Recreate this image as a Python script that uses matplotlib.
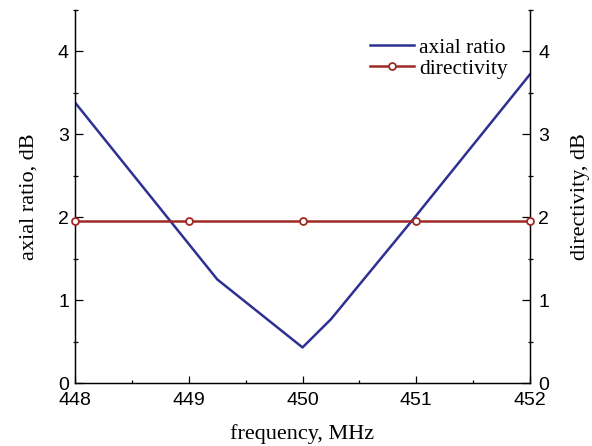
import matplotlib.pyplot as plt
from matplotlib.ticker import MultipleLocator

freq_ar = [448, 449.25, 450, 450.25, 451, 452]
axial_ratio = [3.38, 1.25, 0.43, 0.77, 2.02, 3.72]
freq_dir = [448, 449, 450, 451, 452]
directivity = [1.95, 1.95, 1.95, 1.95, 1.95]
xtick_labels = ["448", "449", "450", "451", "452"]
ytick_vals = [0, 1, 2, 3, 4]
ytick_labels = ["0", "1", "2", "3", "4"]

blue = "#2e3192"
red = "#9e2a24"
serif = "Liberation Serif"
sans = "Liberation Sans"

fig = plt.figure(figsize=(5.92, 4.46), dpi=100)
ax = fig.add_axes([0.127, 0.141, 0.768, 0.837])
ax2 = ax.twinx()

l1, = ax.plot(freq_ar, axial_ratio, color=blue, lw=1.8, label="axial ratio")
l2, = ax2.plot(freq_dir, directivity, color=red, lw=1.8, marker="o", ms=5,
               mfc="white", mec=red, mew=1.3, label="directivity", clip_on=False, zorder=5)

for a in (ax, ax2):
    a.set_xlim(448, 452)
    a.set_ylim(0, 4.5)
    a.spines["top"].set_visible(False)
    for s in a.spines.values():
        s.set_linewidth(0.9)
    a.yaxis.set_minor_locator(MultipleLocator(0.5))
    a.set_yticks(ytick_vals)
    a.set_yticklabels(ytick_labels, fontfamily=sans)
    a.tick_params(axis="y", which="major", direction="in", length=6, width=0.9,
                  labelsize=14, pad=4.5)
    a.tick_params(axis="y", which="minor", direction="inout", length=3.6, width=0.9)

ax2.tick_params(axis="y", which="major", pad=6)

ax.set_xticks(freq_dir)
ax.set_xticklabels(xtick_labels, fontfamily=sans)
ax.xaxis.set_minor_locator(MultipleLocator(0.5))
ax.tick_params(axis="x", which="major", direction="in", length=5, width=0.9,
               labelsize=14, pad=6.5)
ax.tick_params(axis="x", which="minor", direction="in", length=2.4, width=0.9)

ax.set_xlabel("frequency, MHz", fontfamily=serif, fontsize=16, labelpad=11)
ax.set_ylabel("axial ratio, dB", fontfamily=serif, fontsize=16, labelpad=14)
ax2.set_ylabel("directivity, dB", fontfamily=serif, fontsize=16, labelpad=16)

ax2.legend([l1, l2], ["axial ratio", "directivity"], loc="upper right",
           bbox_to_anchor=(0.952, 0.925), borderaxespad=0, borderpad=0,
           frameon=False, handlelength=2.05, handletextpad=0.25, labelspacing=0.05,
           prop={"family": serif, "size": 15.5})

fig.savefig("out.png", dpi=100)
